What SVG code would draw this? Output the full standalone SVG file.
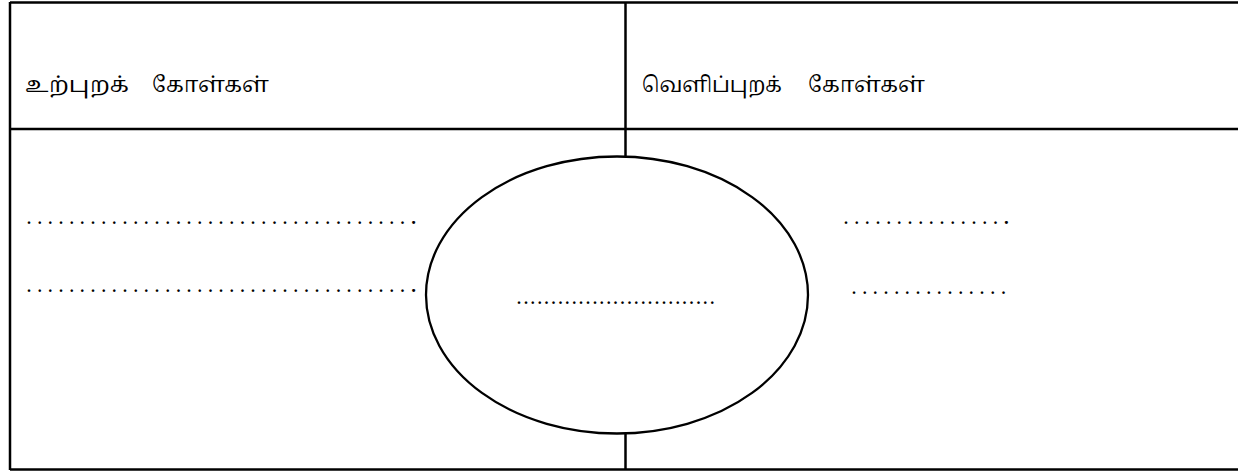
<svg xmlns="http://www.w3.org/2000/svg" width="1238" height="473" viewBox="0 0 1238 473">
<style>
.ln{stroke:#000;stroke-width:2.5;fill:none}
.hd{font-family:"Noto Serif Tamil","Noto Sans Tamil","Latha","Noto Sans",sans-serif;font-size:22px;fill:#000}
.dt{font-family:"Liberation Serif",serif;font-size:16px;font-weight:bold;fill:#000;letter-spacing:6.67px}
.dc{font-family:"Liberation Serif",serif;font-size:16px;font-weight:bold;fill:#000;letter-spacing:2.9px}
</style>
<rect width="1238" height="473" fill="#fff"/>
<g id="table">
<line class="ln" x1="10" y1="2.5" x2="1238" y2="2.5"/>
<line class="ln" x1="10" y1="2" x2="10" y2="470"/>
<line class="ln" x1="10" y1="129" x2="1238" y2="129"/>
<line class="ln" x1="10" y1="469.5" x2="1238" y2="469.5"/>
<line class="ln" x1="625.5" y1="2" x2="625.5" y2="470"/>
</g>
<g id="ellipse">
<ellipse cx="617" cy="295" rx="191" ry="138.5" fill="#fff" stroke="#000" stroke-width="2.3"/>
</g>
<g id="inner">
<text class="hd" y="92"><tspan x="25" textLength="104" lengthAdjust="spacingAndGlyphs">உற்புறக்</tspan> <tspan x="152" textLength="117" lengthAdjust="spacingAndGlyphs">கோள்கள்</tspan></text>
</g>
<g id="outer">
<text class="hd" y="92"><tspan x="642" textLength="140" lengthAdjust="spacingAndGlyphs">வெளிப்புறக்</tspan> <tspan x="808" textLength="117" lengthAdjust="spacingAndGlyphs">கோள்கள்</tspan></text>
</g>
<g id="blanks">
<text class="dt" x="27" y="224">....................................<tspan font-size="19" letter-spacing="0">.</tspan></text>
<text class="dt" x="27" y="292">....................................<tspan font-size="19" letter-spacing="0">.</tspan></text>
<text class="dc" x="517" y="304">.............................</text>
<text class="dt" x="844" y="224">...............<tspan font-size="19" letter-spacing="0">.</tspan></text>
<text class="dt" x="852" y="294">...............</text>
</g>
</svg>
